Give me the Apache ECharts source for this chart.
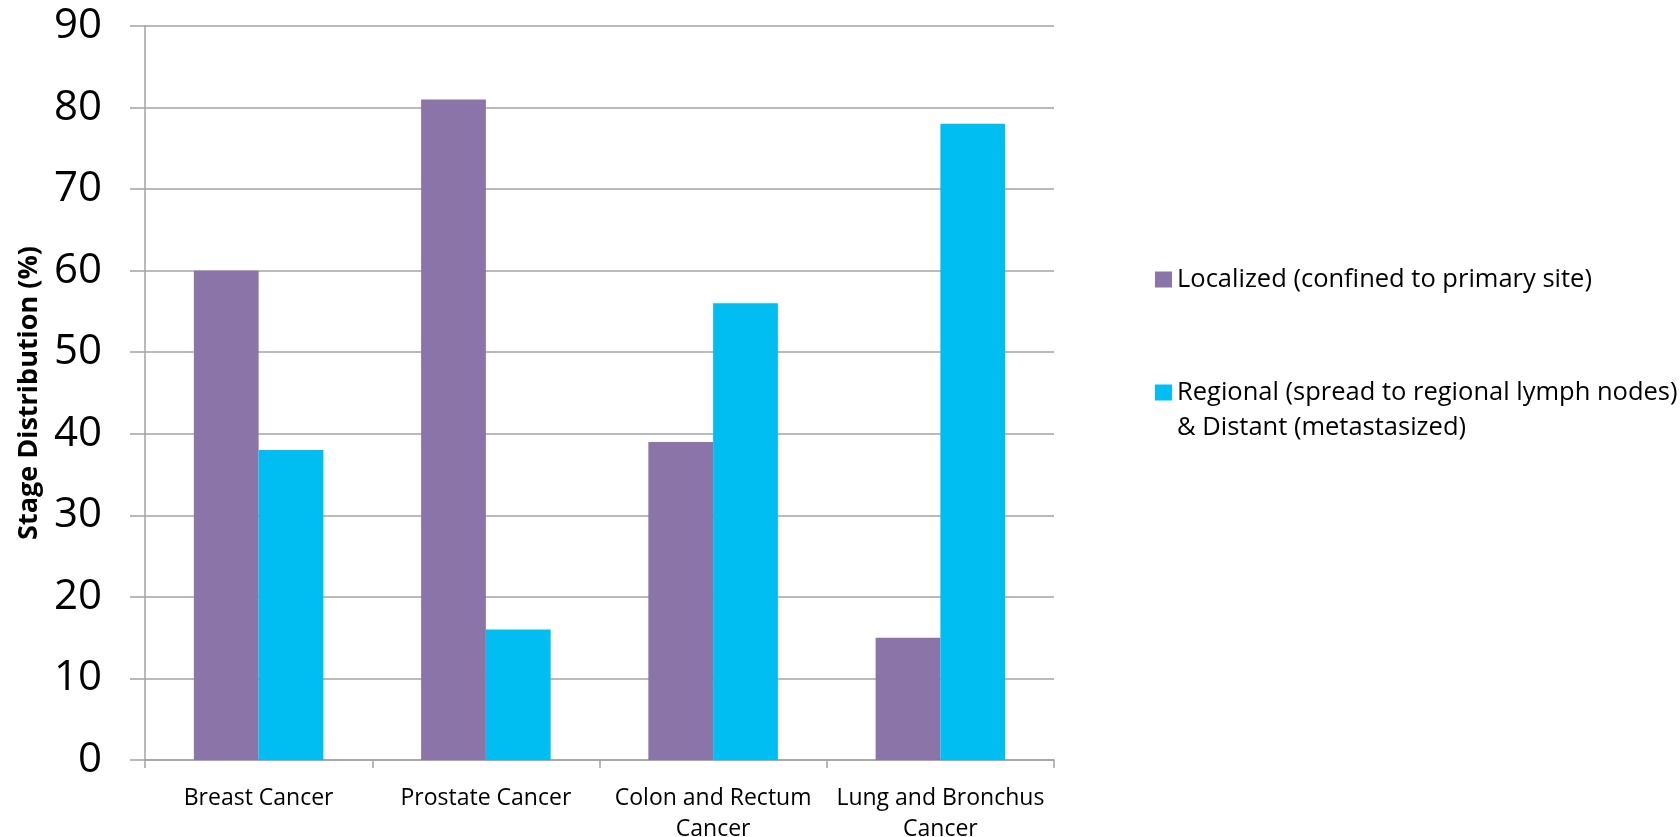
<!DOCTYPE html>
<html>
<head>
<meta charset="utf-8">
<script src="https://cdn.jsdelivr.net/npm/echarts@6/dist/echarts.min.js"></script>
<style>
html,body{margin:0;padding:0;background:#fff;}
#chart{width:1680px;height:837px;}
</style>
</head>
<body>
<div id="chart"></div>
<script>
var categories = ['Breast Cancer', 'Prostate Cancer', 'Colon and Rectum\nCancer', 'Lung and Bronchus\nCancer'];
var localized = [60, 81, 39, 15];
var regionalDistant = [38, 16, 56, 78];
var seriesNames = ['Localized (confined to primary site)', 'Regional (spread to regional lymph nodes)\n& Distant (metastasized)'];
var yAxisTitle = 'Stage Distribution (%)';

var FONT = '"Open Sans", sans-serif';
var GRID_COLOR = '#a3a3a3';

var chart = echarts.init(document.getElementById('chart'));
chart.setOption({
  animation: false,
  backgroundColor: '#fff',
  grid: { left: 145, right: 626, top: 26, bottom: 77, containLabel: false, outerBoundsMode: 'none' },
  legend: {
    orient: 'vertical',
    left: 1150,
    top: 257,
    itemWidth: 17,
    itemHeight: 16,
    itemGap: 43,
    icon: 'rect',
    selectedMode: false,
    data: seriesNames,
    formatter: function (name) {
      return name.indexOf('\n') >= 0 ? '\n' + name : name;
    },
    textStyle: { fontFamily: FONT, fontSize: 25.5, color: '#000', lineHeight: 35 }
  },
  xAxis: {
    type: 'category',
    data: categories,
    axisLine: { show: true, lineStyle: { color: GRID_COLOR, width: 1.5 } },
    axisTick: { show: true, length: 8, alignWithLabel: false, lineStyle: { color: GRID_COLOR, width: 1.5 } },
    axisLabel: { interval: 0, margin: 23, fontFamily: FONT, fontSize: 23, color: '#000', lineHeight: 31 }
  },
  yAxis: {
    type: 'value',
    min: 0,
    max: 90,
    interval: 10,
    name: yAxisTitle,
    nameLocation: 'middle',
    nameGap: 102,
    nameTextStyle: { fontFamily: FONT, fontSize: 27, fontWeight: 'bold', color: '#000' },
    axisLine: { show: true, lineStyle: { color: GRID_COLOR, width: 1.5 } },
    axisTick: { show: true, length: 15, lineStyle: { color: GRID_COLOR, width: 1.5 } },
    splitLine: { show: true, lineStyle: { color: GRID_COLOR, width: 1.5 } },
    axisLabel: { margin: 43, fontFamily: FONT, fontSize: 42, color: '#000', padding: [18, 0, 0, 0] }
  },
  series: [
    {
      name: seriesNames[0],
      type: 'bar',
      data: localized,
      barGap: '0%',
      barCategoryGap: '43%',
      itemStyle: { color: '#8b74a8' }
    },
    {
      name: seriesNames[1],
      type: 'bar',
      data: regionalDistant,
      barGap: '0%',
      barCategoryGap: '43%',
      itemStyle: { color: '#00bdf2' }
    }
  ]
});
</script>
</body>
</html>
